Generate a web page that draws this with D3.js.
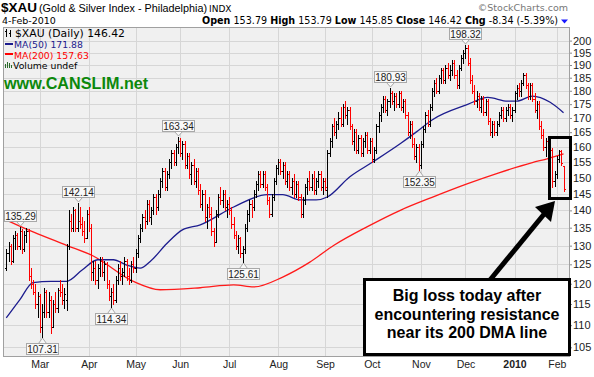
<!DOCTYPE html>
<html>
<head>
<meta charset="utf-8">
<script src="https://cdn.jsdelivr.net/npm/d3@7"></script>
<style>
  body { margin: 0; background: white; }
  svg { display: block; }
  text { font-family: "Liberation Sans", Arial, sans-serif; }
</style>
</head>
<body>
<div id="container"></div>
<script>
let w = 594;
let h = 377;

// ---- data ----
// market holidays, used to rebuild the trading-day axis
let holidays = ["2009-02-16","2009-04-10","2009-05-25","2009-07-03","2009-09-07","2009-11-26","2009-12-25","2010-01-01","2010-01-18"];
let firstDay = "2009-02-06";
let lastDay = "2010-02-04";

// daily OHLC, one value per trading day (Feb 6 2009 .. Feb 4 2010)
let opens = [
  124,128,130,126,132,133,130,134,129,133,
  134,122,120,118,115,117,109.5,113,118,113,
  116,109.5,115,114,118.5,118,116,116,130,137,
  135,140,135,137,136,134,132,139,135,123,
  124,121,124,126,123,125,120,117,118,116,
  121,124,122,123,126,122,121,125,124,128,
  132,135,138,137,142,138,140,144,141,145,
  149,152,147,151,155,158,155,160,162,158,
  161,154,157,151,154,149,152,146,142,145,
  138,141,139,134,131,139,144,143,145,141,
  142,140,136,133,130,132,128,129,135,139,
  142,141,145,148,151,148,151,147,143,139,
  144,149,153,155,152,154,149,151,147,149,
  145,148,144,139,143,147,149,147,150,146,
  149,151,147,149,146,158,162,167,165,168,
  170,168,174,171,173,167,162,165,159,163,
  158,162,164,159,162,156,159,167,171,174,
  177,173,176,179,176,178,175,179,174,176,
  171,165,168,161,157,160,154,161,166,171,
  168,174,180,183,180,185,188,184,189,186,
  188,191,186,182,189,193,195,197,191,184,
  180,176,178,174,177,172,176,169,165,168,
  165,168,171,173,170,173,174,171,173,179,
  181,180,183,186,182,178,182,177,173,175,
  167,164,160,162,158,159,149,151,156,158.5,
  153.79
];
let highs = [
  129,131,130.5,133,134,133.5,135.29,134.5,134,135,
  134.5,124,121,120,118,117.5,115,119,118.5,118,
  117,116,118,119,121,120,119,130.5,140,139,
  141,140.5,142.14,141,138,137,140,141,136,126,
  126,125,127,127,126,125.5,121,119,120,122,
  125,126,124,127,126.5,124,126,127,129,133,
  136,139,140,143,143,141,145,145,146,150,
  153,153,152,156,159,159,161,163.34,163,162,
  162,158,158,155,156,153,153,148,146,146,
  142,144,141,135,140,145,147,146,146,143,
  144,141,138,134,133,132.5,130,136,140,143,
  143,146,149,152,152,152,152,148,144,145,
  150,154,156,156,155,155,152,152,150,151,
  149,149,145,144,148,150,152,151,152,150,
  152,152,150,150,159,163,168,170,169,172,
  174,175,176,174,174,168,166,166,164,164,
  163,165,165,163,163,160,168,172,175,178,
  178,177,180.93,180,179,179,180,180,177,177,
  172,169,169,163,161,161,162,167,172,173,
  175,181,184,185,186,189,189,190,191,190,
  192,192,188,190,194,196,198.32,198,193,186,
  182,180,179,178,178,177,177,170,169,169,
  169,172,174,174,174,175,175,174,180,182,
  183,184,187,187,183,183,183,179,176,176,
  169,166,163,163,160,159.5,152,157,159,159,
  153.79
];
let lows = [
  123.5,126,125,125.5,129,129,129,128,128.5,131,
  121,119,117.5,114,112,108.5,107.31,112,112,112,
  108.3,109.5,113,113,117,115,114,113.5,129,134,
  134,134,134,135,133,131,132,134,121,121,
  120,119,122,122,121,119,116,114.34,115,115.5,
  120,121,120,122,121,120,120.5,123,123,127,
  131,134,135,136,137,136,139,139,140,144,
  147,146,146,150,153,154,154,158,157,156,
  153,153,150,148,148,147,145,141,140,137,
  135,138,133,130,131,138,142,141,140,138,
  139,135,132,129,128,127,125.61,128,134,137,
  138,140,144,146,147,147,146,142,138,138.5,
  143,148,151,151,150,148,147,146,145,144,
  144,143,138,138,142,145,146,146,145,145,
  147,146,145,146,144,157,160,164,163,166,
  167,167,170,168,166,161,159,158,158,157,
  157,160,158,158,155,155,158,165,169,172,
  172,171,174,175,173,174,174,173,172,170,
  164,163,160,156,155,152.35,153,160,165,167,
  167,173,178,179,179,183,183,183,185,184,
  186,185,181,181,188,191,193,190,183,179,
  175,174,173,172,171,171,168,164,163.5,164,
  164,167,170,169,169,171,170,169,172,177,
  178,178,182,181,177,177,176,172,170,166,
  163,159,157,157,156,147,147.5,150,155,154,
  145.85
];
let closes = [
  128,130,126,132,133,130,134,129,133,134,
  122,120,118,115,117,109.5,113,118,113,116,
  109.5,115,114,118.5,118,116,117.5,130,137,135,
  140,135,137,136,134,132,139,135,123,124,
  121,124,126,123,125,120,117,118,116,121,
  124,122,123,126,122,121,125,124,128,132,
  135,138,137,142,138,140,144,141,145,149,
  152,147,151,155,158,155,160,162,158,161,
  154,157,151,154,149,152,146,142,145,138,
  141,139,134,131,139,144,143,145,141,142,
  140,136,133,130,132,128,129,135,139,142,
  141,145,148,151,148,151,147,143,139,144,
  149,153,155,152,154,149,151,147,149,145,
  148,144,139,143,147,149,147,150,146,149,
  151,147,149,147,158,162,167,165,168,170,
  168,174,171,173,167,162,165,159,163,158,
  162,164,159,162,156,159,167,171,174,177,
  173,176,179,176,178,175,179,174,176,171,
  165,168,161,157,160,154,161,166,171,168,
  174,180,183,180,185,188,184,189,186,188,
  191,186,182,189,193,195,197,191,184,180,
  176,178,174,177,172,176,169,165,168,165,
  168,171,173,170,173,174,171,173,179,181,
  180,183,186,182,178,182,177,173,175,167,
  164,160,162,158,159,149,151,156,158.5,154.76,
  146.42
];

// moving averages read at a handful of trading days (day index, value)
let ma50Days = [0,6,12,20,27,34,41,48,54,60,65,72,79,87,102,117,124,132,139,144,154,164,177,184,191,207,216,225,229,236,244,250];
let ma50Vals = [111.7,116,120.3,120.6,120.6,123.5,126.2,126.2,124.8,124,126,130.6,134.4,135.8,141,144.7,144.7,143.1,143.1,144,150.2,154.8,161.2,165.1,169.3,174.9,177.5,176.1,176.1,178,175.7,171.88];
let ma200Days = [0,12,27,39,57,69,87,102,111,124,136,147,162,177,191,207,221,236,243,250];
let ma200Vals = [137.2,133.8,130.1,127.2,120.6,118.5,119,119.7,119.2,121.7,125.5,130.1,135.3,140.1,143.9,148.1,151.5,154.8,156.1,157.63];

// flagged highs / lows
let flagDays = [6,16,32,47,77,106,172,185,206];
let flagVals = [135.29,107.31,142.14,114.34,163.34,125.61,180.93,152.35,198.32];
let flagKinds = ["high","low","high","low","high","low","high","low","high"];

let yTicks = [105,110,115,120,125,130,135,140,145,150,155,160,165,170,175,180,185,190,195,200];
let monthNames = ["Mar","Apr","May","Jun","Jul","Aug","Sep","Oct","Nov","Dec","2010","Feb"];

// ---- layout ----
let plotLeft = 3, plotRight = 570, plotTop = 27, plotBottom = 356;
let verdana = "'DejaVu Sans', Verdana, sans-serif";

let viz = d3.select("#container")
  .append("svg")
    .attr("width", w)
    .attr("height", h)
    .style("background-color", "white")
;

// trading calendar
let parseDay = d3.timeParse("%Y-%m-%d");
let fmtDay = d3.timeFormat("%Y-%m-%d");
let tradingDays = d3.timeDay.range(parseDay(firstDay), d3.timeDay.offset(parseDay(lastDay), 1))
  .filter(function(d){ return d.getDay() != 0 && d.getDay() != 6 && !holidays.includes(fmtDay(d)); });

let monthStarts = [];
tradingDays.forEach(function(d, i){
  if (i > 0 && d.getMonth() != tradingDays[i-1].getMonth()) monthStarts.push(i);
});

let n = Math.min(tradingDays.length, opens.length, highs.length, lows.length, closes.length);

let xScale = d3.scaleLinear().domain([-1.5, 252.9]).range([plotLeft, plotRight]);
let yScale = d3.scaleLog().domain([103.1, 205.8]).range([plotBottom, plotTop]);

// plot background
viz.append("rect")
  .attr("x", plotLeft).attr("y", plotTop)
  .attr("width", plotRight - plotLeft).attr("height", plotBottom - plotTop)
  .attr("fill", "#f0f0f0")
;

// grid
let grid = viz.append("g").attr("class", "grid").attr("shape-rendering", "crispEdges");
grid.selectAll(".hgrid").data(yTicks).enter().append("line")
  .attr("x1", plotLeft).attr("x2", plotRight)
  .attr("y1", function(d){ return Math.round(yScale(d)) + 0.5; })
  .attr("y2", function(d){ return Math.round(yScale(d)) + 0.5; })
  .attr("stroke", "#d6d6d6")
;
grid.selectAll(".vgrid").data(monthStarts).enter().append("line")
  .attr("x1", function(d){ return Math.round(xScale(d)) + 0.5; })
  .attr("x2", function(d){ return Math.round(xScale(d)) + 0.5; })
  .attr("y1", plotTop).attr("y2", plotBottom)
  .attr("stroke", "#d6d6d6")
;

// moving averages
let maLine = d3.line()
  .x(function(d){ return xScale(d[0]); })
  .y(function(d){ return yScale(d[1]); })
  .curve(d3.curveMonotoneX);

viz.append("path")
  .datum(ma200Days.map(function(d, i){ return [d, ma200Vals[i]]; }))
  .attr("d", maLine)
  .attr("fill", "none").attr("stroke", "#ff1a1a").attr("stroke-width", 1.3)
;
viz.append("path")
  .datum(ma50Days.map(function(d, i){ return [d, ma50Vals[i]]; }))
  .attr("d", maLine)
  .attr("fill", "none").attr("stroke", "#1c1c8e").attr("stroke-width", 1.3)
;

// OHLC bars
let barData = d3.range(n).map(function(i){
  return { i: i, o: opens[i], hi: highs[i], lo: lows[i], c: closes[i], up: i == 0 || closes[i] >= closes[i-1] };
});
function barColor(d){ return d.up ? "#000000" : "#ff0000"; }
function bx(d){ return Math.round(xScale(d.i)) + 0.5; }

let bars = viz.append("g").attr("class", "bars").attr("shape-rendering", "crispEdges")
  .selectAll(".bar").data(barData).enter()
  .append("g").attr("class", "bar");

bars.append("line")
  .attr("x1", bx).attr("x2", bx)
  .attr("y1", function(d){ return Math.round(yScale(d.hi)); })
  .attr("y2", function(d){ return Math.round(yScale(d.lo)) + 1; })
  .attr("stroke", barColor)
;
bars.append("line")
  .attr("x1", function(d){ return bx(d) - 1.5; }).attr("x2", function(d){ return bx(d) - 0.5; })
  .attr("y1", function(d){ return Math.round(yScale(d.o)) + 0.5; })
  .attr("y2", function(d){ return Math.round(yScale(d.o)) + 0.5; })
  .attr("stroke", barColor)
;
bars.append("line")
  .attr("x1", function(d){ return bx(d) + 0.5; }).attr("x2", function(d){ return bx(d) + 1.5; })
  .attr("y1", function(d){ return Math.round(yScale(d.c)) + 0.5; })
  .attr("y2", function(d){ return Math.round(yScale(d.c)) + 0.5; })
  .attr("stroke", barColor)
;

// flags on highs / lows
let flags = viz.append("g").attr("class", "flags")
  .selectAll(".flag").data(flagDays.map(function(d, i){ return { i: d, v: flagVals[i], kind: flagKinds[i] }; }))
  .enter().append("g").attr("class", "flag");

flags.each(function(d){
  let g = d3.select(this);
  let cx = Math.round(xScale(d.i)) + 0.5;
  let py = yScale(d.v);
  let bw = 32, bh = 11;
  let top = d.kind == "high" ? Math.round(py) - 16.5 : Math.round(py) + 6.5;
  let edge = d.kind == "high" ? top + bh : top;
  let tip = d.kind == "high" ? Math.round(py) - 1 : Math.round(py) + 1;
  g.append("path")
    .attr("d", "M" + (cx - 4) + "," + edge + "L" + cx + "," + tip + "L" + (cx + 4) + "," + edge)
    .attr("fill", "#f8f8f8").attr("stroke", "#a8a8a8");
  g.append("rect")
    .attr("x", cx - bw / 2).attr("y", top).attr("width", bw).attr("height", bh)
    .attr("fill", "#f8f8f8").attr("stroke", "#a8a8a8");
  g.append("text")
    .attr("x", cx).attr("y", top + 9)
    .attr("text-anchor", "middle").attr("font-size", 10).attr("fill", "#222")
    .text(d3.format(".2f")(d.v));
});

// plot frame
viz.append("rect")
  .attr("x", plotLeft + 0.5).attr("y", plotTop + 0.5)
  .attr("width", plotRight - plotLeft - 1).attr("height", plotBottom - plotTop)
  .attr("fill", "none").attr("stroke", "#a0a0a0").attr("shape-rendering", "crispEdges")
;

// y axis (right)
let yAxis = d3.axisRight(yScale).tickValues(yTicks).tickFormat(d3.format("d")).tickSize(2).tickPadding(1);
let yAxisGroup = viz.append("g").attr("class", "yaxis")
  .attr("transform", "translate(" + plotRight + ",0)")
  .call(yAxis);
yAxisGroup.select(".domain").remove();
yAxisGroup.selectAll("line").attr("stroke", "#888");
yAxisGroup.selectAll("text").attr("font-size", 11).attr("fill", "#222")
  .style("font-family", "'Liberation Sans', Arial, sans-serif");

// x axis (months)
let xAxis = d3.axisBottom(xScale).tickValues(monthStarts)
  .tickFormat(function(d, i){ return monthNames[i]; }).tickSize(0).tickPadding(5);
let xAxisGroup = viz.append("g").attr("class", "xaxis")
  .attr("transform", "translate(0," + plotBottom + ")")
  .call(xAxis);
xAxisGroup.select(".domain").remove();
xAxisGroup.selectAll("text").attr("font-size", 10.5).attr("fill", "#222")
  .style("font-family", "'Liberation Sans', Arial, sans-serif")
  .attr("font-weight", function(d, i){ return monthNames[i] == "2010" ? "bold" : "normal"; });

// header
viz.append("text").attr("x", 1).attr("y", 12).attr("font-size", 13.5).attr("font-weight", "bold").text("$XAU");
viz.append("text").attr("x", 39).attr("y", 11.5).attr("font-size", 10.8).text("(Gold & Silver Index - Philadelphia)");
viz.append("text").attr("x", 209).attr("y", 11.5).attr("font-size", 9).style("font-family", verdana).text("INDX");
viz.append("text").attr("x", 568).attr("y", 10.5).attr("text-anchor", "end").attr("font-size", 9.5)
  .attr("fill", "#777").style("font-family", verdana).text("\u00a9StockCharts.com");
viz.append("text").attr("x", 2).attr("y", 24).attr("font-size", 9.5).style("font-family", verdana).text("4-Feb-2010");

let quote = viz.append("text").attr("x", 558).attr("y", 24).attr("text-anchor", "end")
  .attr("font-size", 9.6).style("font-family", verdana).attr("xml:space", "preserve");
[["Open", true], [" 153.79 ", false], ["High", true], [" 153.79 ", false], ["Low", true], [" 145.85 ", false],
 ["Close", true], [" 146.42 ", false], ["Chg", true], [" -8.34 (-5.39%)", false]].forEach(function(p){
  quote.append("tspan").attr("font-weight", p[1] ? "bold" : "normal").text(p[0]);
});
viz.append("path").attr("d", "M561,19.5L568,19.5L564.5,23.5Z").attr("fill", "#1a1aff");

// legend inside plot
let legend = viz.append("g").attr("class", "legend");
legend.append("path").attr("d", "M6,29v8M5,31h1M6,35h1M10,30v7M9,33h1M10,31h1")
  .attr("stroke", "#000").attr("fill", "none").attr("shape-rendering", "crispEdges");
legend.append("text").attr("x", 15).attr("y", 37).attr("font-size", 10.8).style("font-family", verdana).text("$XAU (Daily) 146.42");
legend.append("line").attr("x1", 5).attr("x2", 13).attr("y1", 44).attr("y2", 44).attr("stroke", "#1c1c8e").attr("stroke-width", 2);
legend.append("text").attr("x", 14).attr("y", 48).attr("font-size", 9.3).attr("fill", "#1c1c8e").style("font-family", verdana).text("MA(50) 171.88");
legend.append("line").attr("x1", 5).attr("x2", 13).attr("y1", 54).attr("y2", 54).attr("stroke", "#ff0000").attr("stroke-width", 2);
legend.append("text").attr("x", 14).attr("y", 58.5).attr("font-size", 9.3).attr("fill", "#ff0000").style("font-family", verdana).text("MA(200) 157.63");
legend.append("path").attr("d", "M5.5,68v-4M7.5,68v-6M9.5,68v-5M11.5,68v-3")
  .attr("stroke", "#2a6b2a").attr("stroke-width", 1.4).attr("shape-rendering", "crispEdges");
legend.append("text").attr("x", 13).attr("y", 68.5).attr("font-size", 9.3).style("font-family", verdana).text("Volume undef");
legend.append("text").attr("x", 4).attr("y", 89).attr("font-size", 16.2).attr("font-weight", "bold")
  .attr("fill", "#0c880c").text("www.CANSLIM.net");

// annotation
let note = viz.append("g").attr("class", "note");
note.append("rect").attr("x", 549.5).attr("y", 137.5).attr("width", 21).attr("height", 61)
  .attr("fill", "none").attr("stroke", "#000").attr("stroke-width", 3);
note.append("line").attr("x1", 490).attr("y1", 280).attr("x2", 545).attr("y2", 213)
  .attr("stroke", "#000").attr("stroke-width", 5);
note.append("path").attr("d", "M555,201L535,207L551,222Z").attr("fill", "#000");
note.append("rect").attr("x", 364.5).attr("y", 279.5).attr("width", 205).attr("height", 75)
  .attr("fill", "#fff").attr("stroke", "#000").attr("stroke-width", 3);
["Big loss today after", "encountering resistance", "near its 200 DMA line"].forEach(function(t, i){
  note.append("text").attr("x", 467).attr("y", 301 + i * 18.5).attr("text-anchor", "middle")
    .attr("font-size", 16).attr("font-weight", "bold").text(t);
});
</script>
</body>
</html>
